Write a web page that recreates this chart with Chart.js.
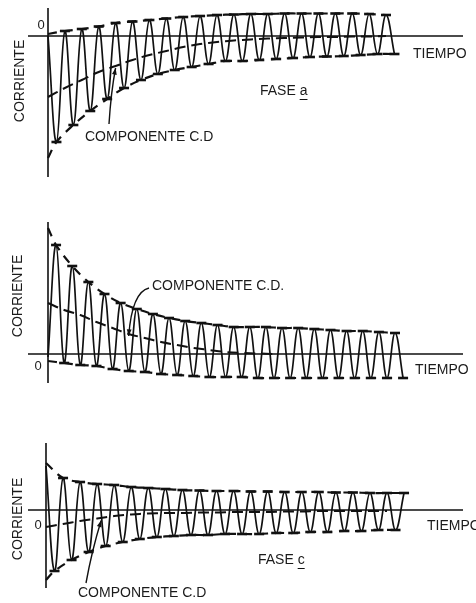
<!DOCTYPE html>
<html>
<head>
<meta charset="utf-8">
<script src="https://cdn.jsdelivr.net/npm/chart.js@4.4.1/dist/chart.umd.min.js"></script>
<style>
  html, body { margin: 0; padding: 0; background: #fff; }
  body { width: 476px; height: 603px; position: relative; overflow: hidden; }
  .panel { position: absolute; left: 0; width: 476px; }
</style>
</head>
<body>
<div class="panel" style="top:0;height:200px"><canvas id="faseA"></canvas></div>
<div class="panel" style="top:200px;height:200px"><canvas id="faseB"></canvas></div>
<div class="panel" style="top:400px;height:203px"><canvas id="faseC"></canvas></div>
<script>
'use strict'

// Time is counted in cycles of the wave. Index 0 of every upper/lower list is
// where the envelope starts (t = 0); the other entries are the successive peaks / troughs.

// Fase a: peaks at t = 1, 2, 3 ... troughs at t = 0.5, 1.5 ...
var startA = 0;
var upperA = [0.2, 0.5, 0.7, 0.95, 1.3, 1.45, 1.6, 1.75, 1.9, 2.0, 2.1, 2.15, 2.2, 2.2, 2.25, 2.25, 2.25, 2.25, 2.25, 2.2, 2.1];
var lowerA = [-12.2, -10.6, -8.9, -7.5, -6.3, -5.2, -4.4, -3.8, -3.4, -3.1, -2.8, -2.5, -2.5, -2.4, -2.3, -2.2, -2.1, -2.05, -2.0, -1.9, -1.8, -1.8];
var dcA = [-6.1, -5.2, -4.4, -3.6, -3.0, -2.4, -1.9, -1.5, -1.1, -0.8, -0.6, -0.45, -0.35, -0.25, -0.2, -0.15, -0.1, -0.1, -0.05, -0.05, 0];

// Fase b: peaks at t = 0.5, 1.5 ... troughs at t = 1, 2 ...
var startB = -0.3;
var upperB = [12.6, 10.9, 8.8, 7.2, 6.0, 5.1, 4.5, 4.0, 3.6, 3.3, 3.1, 2.9, 2.7, 2.7, 2.7, 2.6, 2.6, 2.5, 2.4, 2.3, 2.3, 2.2, 2.1];
var lowerB = [-0.7, -0.9, -1.1, -1.2, -1.5, -1.7, -1.8, -2.0, -2.1, -2.2, -2.3, -2.3, -2.3, -2.4, -2.4, -2.4, -2.4, -2.4, -2.4, -2.4, -2.4, -2.4, -2.4];
var dcB = [5.1, 4.4, 3.9, 3.2, 2.6, 2.0, 1.6, 1.2, 0.9, 0.6, 0.4, 0.2, 0.1, 0.05, 0];

// Fase c: peaks at t = 1, 2 ... troughs at t = 0.5, 1.5 ...
var startC = 4.4;
var upperC = [4.7, 3.2, 2.8, 2.6, 2.5, 2.3, 2.2, 2.1, 2.0, 1.95, 1.9, 1.9, 1.85, 1.85, 1.8, 1.8, 1.8, 1.75, 1.75, 1.7, 1.7, 1.7];
var lowerC = [-7.0, -6.1, -5.0, -4.2, -3.6, -3.2, -2.9, -2.7, -2.6, -2.5, -2.5, -2.4, -2.4, -2.4, -2.3, -2.3, -2.2, -2.2, -2.1, -2.1, -2.0, -2.0];
var dcC = [-1.7, -1.4, -1.1, -0.85, -0.6, -0.45, -0.35, -0.3, -0.3, -0.25, -0.25, -0.2, -0.2, -0.2, -0.15, -0.15, -0.1, -0.1, -0.1, -0.1, -0.1];

var INK = '#111';
var FONT = '14px "Liberation Sans", Arial, sans-serif';

// turn a list into points: entry 0 at t = 0, the rest one cycle apart from `first`
function envelope(list, first) {
    return list.map(function (v, i) {
        return { x: i === 0 ? 0 : first + i - 1, y: v };
    });
}

function wave(start, upper, upFirst, lower, lowFirst) {
    var pts = envelope(upper, upFirst).slice(1).concat(envelope(lower, lowFirst).slice(1));
    pts.sort(function (a, b) { return a.x - b.x; });
    return [{ x: 0, y: start }].concat(pts);
}

function steady(list) {
    return list.map(function (v, i) { return { x: i, y: v }; });
}

function arrowHead(ctx, fx, fy, tx, ty) {
    var a = Math.atan2(ty - fy, tx - fx);
    ctx.beginPath();
    ctx.moveTo(tx, ty);
    ctx.lineTo(tx - 7 * Math.cos(a - 0.35), ty - 7 * Math.sin(a - 0.35));
    ctx.lineTo(tx - 7 * Math.cos(a + 0.35), ty - 7 * Math.sin(a + 0.35));
    ctx.closePath();
    ctx.fill();
}

// axes, labels and the pointer to the C.D. curve
var sketchPlugin = {
    id: 'sketch',
    beforeDatasetsDraw: function (chart) {
        var ctx = chart.ctx, area = chart.chartArea;
        var x0 = chart.scales.x.getPixelForValue(0);
        var y0 = chart.scales.y.getPixelForValue(0);
        ctx.save();
        ctx.strokeStyle = INK;
        ctx.lineWidth = 1.6;
        ctx.beginPath();
        ctx.moveTo(area.left, y0);
        ctx.lineTo(area.right, y0);
        ctx.moveTo(x0, area.top);
        ctx.lineTo(x0, area.bottom);
        ctx.stroke();
        ctx.restore();
    },
    afterDraw: function (chart, args, o) {
        var ctx = chart.ctx;
        ctx.save();
        ctx.fillStyle = '#1b1b1b';
        ctx.strokeStyle = INK;
        ctx.font = FONT;
        ctx.textBaseline = 'middle';

        ctx.textAlign = 'center';
        ctx.font = '13px "Liberation Sans", Arial, sans-serif';
        ctx.fillText('0', o.zero[0], o.zero[1]);
        ctx.font = FONT;

        ctx.save();
        ctx.translate(o.title[0], o.title[1]);
        ctx.rotate(-Math.PI / 2);
        ctx.fillText('CORRIENTE', 0, 0);
        ctx.restore();

        ctx.textAlign = 'left';
        ctx.fillText('TIEMPO', o.time[0], o.time[1]);

        var head = 'FASE ';
        ctx.fillText(head, o.fase[0], o.fase[1]);
        var lx = o.fase[0] + ctx.measureText(head).width;
        var lw = ctx.measureText(o.letter).width;
        ctx.fillText(o.letter, lx, o.fase[1]);
        ctx.lineWidth = 1;
        ctx.beginPath();
        ctx.moveTo(lx, o.fase[1] + 8.5);
        ctx.lineTo(lx + lw, o.fase[1] + 8.5);
        ctx.stroke();

        ctx.fillText(o.comp, o.compAt[0], o.compAt[1]);

        // leader line ending on the C.D. component
        var meta = chart.getDatasetMeta(3).data[o.tipIndex];
        var tx = meta.x + o.tipShift[0], ty = meta.y + o.tipShift[1];
        ctx.lineWidth = 1.4;
        ctx.beginPath();
        ctx.moveTo(o.from[0], o.from[1]);
        ctx.quadraticCurveTo(o.bend[0], o.bend[1], tx, ty);
        ctx.stroke();
        ctx.fillStyle = INK;
        arrowHead(ctx, o.bend[0], o.bend[1], tx, ty);
        ctx.restore();
    }
};

function drawPhase(id, start, upper, upFirst, lower, lowFirst, dc, frame, notes) {
    var left = 28, right = 463;
    new Chart(document.getElementById(id), {
        type: 'line',
        data: {
            datasets: [{
                data: wave(start, upper, upFirst, lower, lowFirst),
                borderColor: INK,
                borderWidth: 1.7,
                tension: 0.4,
                pointStyle: 'line',
                pointRadius: function (c) { return c.dataIndex === 0 ? 0 : 5; },
                pointBorderWidth: 2.6,
                pointBorderColor: INK
            }, {
                data: envelope(upper, upFirst),
                borderColor: INK,
                borderWidth: 2.2,
                borderDash: [9, 7],
                tension: 0.35,
                pointRadius: 0
            }, {
                data: envelope(lower, lowFirst),
                borderColor: INK,
                borderWidth: 2.2,
                borderDash: [9, 7],
                tension: 0.35,
                pointRadius: 0
            }, {
                data: steady(dc),
                borderColor: INK,
                borderWidth: 2,
                borderDash: [11, 6],
                tension: 0.35,
                pointRadius: 0
            }]
        },
        options: {
            responsive: true,
            maintainAspectRatio: false,
            animation: false,
            layout: {
                padding: { left: left, right: 476 - right, top: frame.top, bottom: frame.bottom }
            },
            plugins: {
                legend: { display: false },
                tooltip: { enabled: false },
                sketch: notes
            },
            scales: {
                x: {
                    type: 'linear',
                    display: false,
                    min: (left - frame.x0) / frame.period,
                    max: (right - frame.x0) / frame.period
                },
                y: {
                    display: false,
                    min: frame.yMin,
                    max: frame.yMax
                }
            }
        },
        plugins: [sketchPlugin]
    });
}

drawPhase('faseA', startA, upperA, 1, lowerA, 0.5, dcA,
    { top: 8, bottom: 23, x0: 48, period: 16.9, yMin: -14.1, yMax: 2.8 },
    { zero: [41, 25], title: [20, 81], time: [413, 54], fase: [260, 91], letter: 'a',
      comp: 'COMPONENTE C.D', compAt: [85, 137],
      from: [109, 124], bend: [111, 92], tipIndex: 4, tipShift: [0, 2] });

drawPhase('faseB', startB, upperB, 0.5, lowerB, 1, dcB,
    { top: 22, bottom: 17, x0: 48, period: 16.14, yMin: -2.9, yMax: 13.2 },
    { zero: [38, 166], title: [18, 96], time: [415, 170], fase: [257, 208], letter: 'b',
      comp: 'COMPONENTE C.D.', compAt: [152, 86],
      from: [149, 88], bend: [132, 92], tipIndex: 5, tipShift: [0, 2] });

drawPhase('faseC', startC, upperC, 1, lowerC, 0.5, dcC,
    { top: 43, bottom: 15, x0: 46, period: 17.05, yMin: -7.8, yMax: 6.7 },
    { zero: [38, 125], title: [18, 119], time: [427, 126], fase: [258, 160], letter: 'c',
      comp: 'COMPONENTE C.D', compAt: [78, 193],
      from: [86, 183], bend: [92, 150], tipIndex: 3, tipShift: [4, 2] });
</script>
</body>
</html>
